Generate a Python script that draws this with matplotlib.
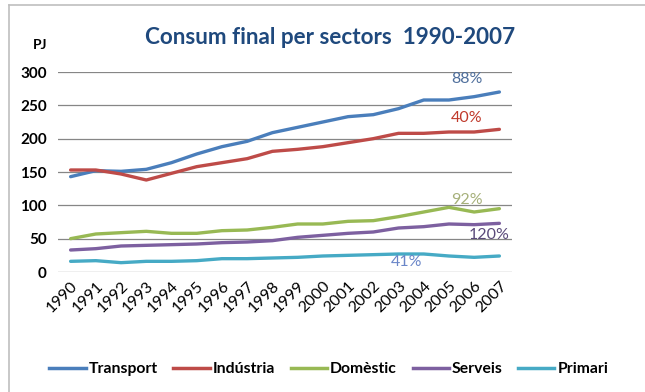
import matplotlib.pyplot as plt
from matplotlib.lines import Line2D

years = list(range(1990, 2008))
transport = [143, 152, 151, 154, 164, 177, 188, 196, 209, 217, 225, 233, 236, 245, 258, 258, 263, 270]
industria = [153, 153, 147, 138, 148, 158, 164, 170, 181, 184, 188, 194, 200, 208, 208, 210, 210, 214]
domestic = [50, 57, 59, 61, 58, 58, 62, 63, 67, 72, 72, 76, 77, 83, 90, 97, 90, 95]
serveis = [33, 35, 39, 40, 41, 42, 44, 45, 47, 52, 55, 58, 60, 66, 68, 72, 71, 73]
primari = [16, 17, 14, 16, 16, 17, 20, 20, 21, 22, 24, 25, 26, 27, 27, 24, 22, 24]

names = ['Transport', 'Indústria', 'Domèstic', 'Serveis', 'Primari']
colors = ['#4a7ebb', '#be4b48', '#98b954', '#7d60a0', '#46aac5']
series = [transport, industria, domestic, serveis, primari]

plt.rcParams['font.family'] = ['Lato', 'DejaVu Sans']

fig = plt.figure(figsize=(6.45, 3.92), dpi=100)
ax = fig.add_axes([58 / 645, 1 - 272 / 392, 454 / 645, 200 / 392])

for vals, name, c in zip(series, names, colors):
    ax.plot(years, vals, color=c, linewidth=2.4, label=name, solid_capstyle='round')

ax.set_xlim(1989.5, 2007.5)
ax.set_ylim(0, 300)
ax.set_yticks(range(0, 301, 50))
ax.set_xticks(years)
ax.set_xticklabels([str(y) for y in years], rotation=45, ha='right',
                   rotation_mode='anchor', fontsize=11.5)
ax.grid(axis='y', color='#868686', linewidth=0.9)
ax.set_axisbelow(True)
for s in ax.spines.values():
    s.set_visible(False)
ax.tick_params(length=0)
ax.tick_params(axis='y', labelsize=11, pad=8)
ax.tick_params(axis='x', pad=5)
for lab in ax.get_yticklabels():
    lab.set_fontweight('bold')

# percentage labels
ax.text(2005.7, 279, '88%', color='#4f6f9c', fontsize=11.5, ha='center', va='bottom')
ax.text(2005.7, 221, '40%', color='#c0392b', fontsize=11.5, ha='center', va='bottom')
ax.text(2005.7, 97, '92%', color='#a6b07a', fontsize=11.5, ha='center', va='bottom')
ax.text(2006.6, 45, '120%', color='#5a4a7a', fontsize=11.5, ha='center', va='bottom')
ax.text(2003.3, 5, '41%', color='#6a86c8', fontsize=11.5, ha='center', va='bottom')

fig.text(330 / 645, 1 - 37 / 392, 'Consum final per sectors  1990-2007',
         color='#1f497d', fontsize=16.2, fontweight='bold', ha='center', va='center')
fig.text(40 / 645, 1 - 45 / 392, 'PJ', fontsize=10, fontweight='bold', ha='center', va='center')

handles = [Line2D([0], [0], color=c, linewidth=2.5) for c in colors]
fig.legend(handles, names, loc='center', bbox_to_anchor=(0.51, 1 - 369 / 392),
           ncol=5, frameon=False, handlelength=2.3, handletextpad=0.2,
           columnspacing=1.0, prop={'size': 11.3, 'weight': 'bold'})

fig.add_artist(Line2D([9 / 645, 9 / 645], [0, 1 - 5 / 392], color='#bfbfbf', linewidth=1.2))
fig.add_artist(Line2D([9 / 645, 1], [1 - 5 / 392, 1 - 5 / 392], color='#bfbfbf', linewidth=1.2))

fig.savefig('out.png', dpi=100)
